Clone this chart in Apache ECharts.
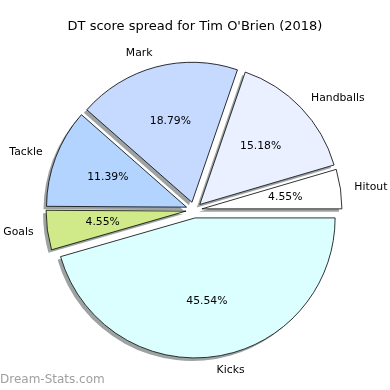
<!DOCTYPE html>
<html>
<head>
<meta charset="utf-8">
<script src="https://cdn.jsdelivr.net/npm/echarts@6/dist/echarts.min.js"></script>
<style>html,body{margin:0;padding:0;background:#fff}#c{width:390px;height:390px}</style>
</head>
<body>
<div id="c"></div>
<script>
const categories = ['Hitout', 'Handballs', 'Mark', 'Tackle', 'Goals', 'Kicks'];
const values = [24, 80, 99, 60, 24, 240];
const colors = ['#ffffff', '#eaf0ff', '#c6d9ff', '#b3d4ff', '#d0ea8a', '#dbffff'];
const titleText = "DT score spread for Tim O'Brien (2018)";
const watermark = 'Dream-Stats.com';

const total = values.reduce((a, b) => a + b, 0);
const R = 140;
const center = [194, 210];
const font = 'DejaVu Sans';

const makeData = (withColor) => categories.map((c, i) => ({
  name: c, value: values[i], selected: true,
  itemStyle: withColor ? { color: colors[i] } : undefined
}));

const base = {
  type: 'pie',
  center: center,
  startAngle: 0,
  clockwise: false,
  selectedMode: 'multiple',
  selectedOffset: 8,
  avoidLabelOverlap: false,
  silent: true,
  emphasis: { disabled: true }
};

const chart = echarts.init(document.getElementById('c'), null, { renderer: 'canvas' });
chart.setOption({
  animation: false,
  backgroundColor: '#ffffff',
  title: {
    text: titleText, left: 'center', top: 15,
    textStyle: { fontFamily: font, fontSize: 13, fontWeight: 'normal', color: '#000' }
  },
  graphic: [{
    type: 'text', left: 0, top: 374,
    style: { text: watermark, fill: '#a0a0a0', font: '12px "DejaVu Sans"' }
  }],
  series: [
    Object.assign({}, base, {
      radius: [0, R],
      itemStyle: {
        borderWidth: 0,
        shadowColor: 'rgba(60,70,70,0.5)', shadowBlur: 0, shadowOffsetX: -3, shadowOffsetY: 3
      },
      label: { show: false },
      labelLine: { show: false },
      data: makeData(true)
    }),
    Object.assign({}, base, {
      radius: [0, R],
      itemStyle: { borderColor: '#000', borderWidth: 0.8 },
      label: {
        show: true, position: 'outside', distanceToLabelLine: 0,
        fontFamily: font, fontSize: 10.8, color: '#000', formatter: '{b}'
      },
      labelLine: { show: false, length: 14, length2: 0 },
      data: makeData(true)
    }),
    Object.assign({}, base, {
      radius: [R * 0.16, R],
      itemStyle: { color: 'rgba(0,0,0,0)', borderWidth: 0 },
      label: {
        show: true, position: 'inside',
        fontFamily: font, fontSize: 10.8, color: '#000',
        formatter: p => (p.value / total * 100).toFixed(2) + '%'
      },
      labelLine: { show: false },
      data: makeData(false)
    })
  ]
});
</script>
</body>
</html>
